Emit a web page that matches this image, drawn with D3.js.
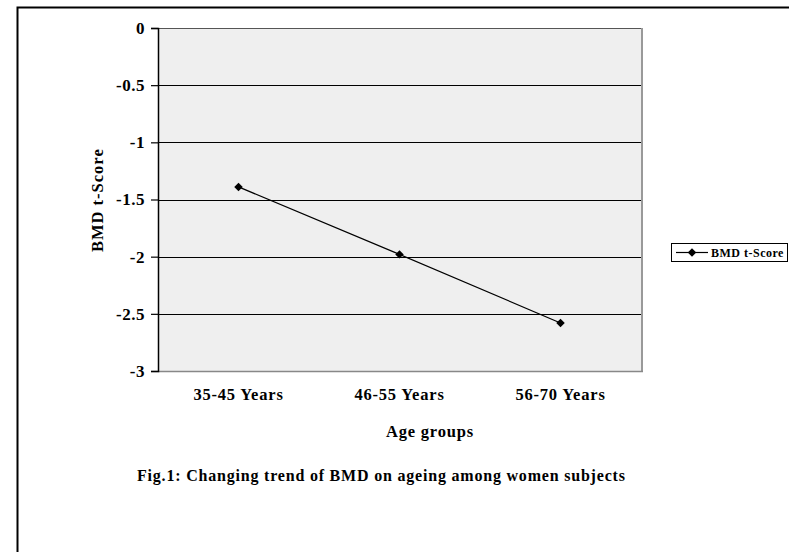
<!DOCTYPE html>
<html>
<head>
<meta charset="utf-8">
<script src="https://cdn.jsdelivr.net/npm/d3@7"></script>
<style>
  body { margin: 0; background: #fff; }
  svg text { font-family: "Liberation Serif", "Times New Roman", serif !important; font-weight: bold !important; fill: #000; }
</style>
</head>
<body>
<div id="chart"></div>
<script>
var width = 789, height = 552;
// plot area
var margin = {top: 28, right: 148, bottom: 181, left: 158};

// data
var categories = ["35-45 Years", "46-55 Years", "56-70 Years"];
var tScores = [-1.39, -1.98, -2.58];
var yTicks = [0, -0.5, -1, -1.5, -2, -2.5, -3];
var seriesName = "BMD t-Score";

var svg = d3.select("#chart")
    .append("svg")
        .attr("width", width)
        .attr("height", height);

// outer frame
svg.append("rect")
    .attr("x", 17.5).attr("y", 7.5)
    .attr("width", 800).attr("height", 600)
    .attr("fill", "none")
    .attr("stroke", "#000")
    .attr("stroke-width", 2);

var x = d3.scaleBand()
    .domain(categories)
    .range([margin.left, width - margin.right]);

var y = d3.scaleLinear()
    .domain([-3, 0])
    .range([height - margin.bottom, margin.top]);

// plot background
svg.append("rect")
    .attr("x", margin.left).attr("y", margin.top)
    .attr("width", width - margin.right - margin.left)
    .attr("height", height - margin.bottom - margin.top)
    .attr("fill", "#efefef");

// gridlines
svg.append("g")
    .selectAll("line")
    .data(yTicks.filter(function(d){ return d > -3; }))
    .join("line")
        .attr("x1", margin.left).attr("x2", width - margin.right)
        .attr("y1", function(d){ return Math.round(y(d)) + 0.5; })
        .attr("y2", function(d){ return Math.round(y(d)) + 0.5; })
        .attr("stroke", function(d){ return d === 0 ? "#555" : "#000"; })
        .attr("stroke-width", 1.2);

// right and bottom frame of plot area
svg.append("line")
    .attr("x1", width - margin.right + 1).attr("x2", width - margin.right + 1)
    .attr("y1", margin.top).attr("y2", height - margin.bottom)
    .attr("stroke", "#999").attr("stroke-width", 2);
svg.append("line")
    .attr("x1", margin.left).attr("x2", width - margin.right + 2)
    .attr("y1", height - margin.bottom + 0.5).attr("y2", height - margin.bottom + 0.5)
    .attr("stroke", "#888").attr("stroke-width", 1.5);

// y axis
var yAxis = svg.append("g")
    .attr("transform", "translate(" + margin.left + ",0)")
    .call(d3.axisLeft(y).tickValues(yTicks).tickSize(7).tickPadding(6)
        .tickFormat(function(d){ return String(d); }));
yAxis.attr("font-family", null).attr("font-size", null);
yAxis.select(".domain").attr("stroke", "#000").attr("stroke-width", 1.5);
yAxis.selectAll(".tick line").attr("stroke", "#000").attr("stroke-width", 1.2);
yAxis.selectAll("text")
    .attr("font-weight", "bold")
    .style("font-size", "17px")
    .style("letter-spacing", "0.5px");

// x labels
svg.append("g")
    .selectAll("text")
    .data(categories)
    .join("text")
        .attr("x", function(d){ return x(d) + x.bandwidth() / 2; })
        .attr("y", 400)
        .attr("text-anchor", "middle")
        .style("font-size", "16.5px")
        .style("letter-spacing", "0.8px")
        .text(function(d){ return d; });

// axis titles
svg.append("text")
    .attr("x", 386).attr("y", 437)
    .style("font-size", "16.5px")
    .style("letter-spacing", "0.8px")
    .text("Age groups");

svg.append("text")
    .attr("transform", "translate(103,252) rotate(-90)")
    .style("font-size", "16.5px")
    .style("letter-spacing", "1px")
    .text("BMD t-Score");

// caption
svg.append("text")
    .attr("x", 137).attr("y", 481)
    .style("font-size", "16px")
    .style("letter-spacing", "0.8px")
    .text("Fig.1: Changing trend of BMD on ageing among women subjects");

// series line
var line = d3.line()
    .x(function(d, i){ return x(categories[i]) + x.bandwidth() / 2; })
    .y(function(d){ return y(d); });

svg.append("path")
    .datum(tScores)
    .attr("d", line)
    .attr("fill", "none")
    .attr("stroke", "#000")
    .attr("stroke-width", 1.2);

var marker = d3.symbol().type(d3.symbolSquare).size(36);
svg.append("g")
    .selectAll("path")
    .data(tScores)
    .join("path")
        .attr("d", marker)
        .attr("transform", function(d, i){
            return "translate(" + (x(categories[i]) + x.bandwidth() / 2) + "," + y(d) + ") rotate(45)";
        })
        .attr("fill", "#000");

// legend
var legend = svg.append("g").attr("transform", "translate(671,243)");
legend.append("rect")
    .attr("x", 0.5).attr("y", 0.5)
    .attr("width", 116).attr("height", 18)
    .attr("fill", "#fff")
    .attr("stroke", "#000");
legend.append("line")
    .attr("x1", 5).attr("x2", 37)
    .attr("y1", 9.5).attr("y2", 9.5)
    .attr("stroke", "#000").attr("stroke-width", 1.2);
legend.append("path")
    .attr("d", marker)
    .attr("transform", "translate(21,9.5) rotate(45)")
    .attr("fill", "#000");
legend.append("text")
    .attr("x", 40).attr("y", 14)
    .style("font-size", "12px")
    .style("letter-spacing", "0.5px")
    .text(seriesName);
</script>
</body>
</html>
